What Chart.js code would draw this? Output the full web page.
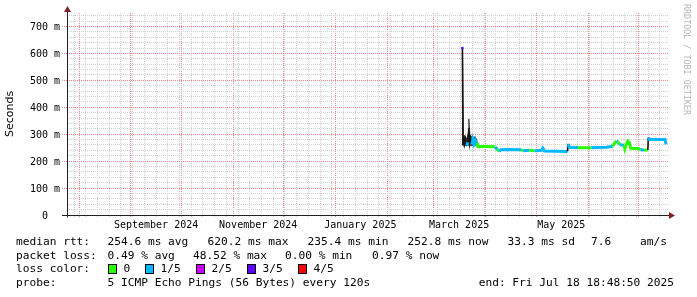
<!DOCTYPE html>
<html><head><meta charset="utf-8">
<script src="https://cdn.jsdelivr.net/npm/chart.js@4.4.1/dist/chart.umd.min.js"></script>
<style>
html,body{margin:0;padding:0;background:#fff;}
#wrap{position:relative;width:697px;height:297px;overflow:hidden;background:#fff;}
#c{position:absolute;left:0;top:0;}
.t{position:absolute;font-family:'DejaVu Sans Mono',monospace;font-size:11.2px;line-height:14px;color:#000;white-space:pre;}
.box{position:absolute;width:9px;height:10px;box-sizing:border-box;border:1px solid #000;}
#wm{position:absolute;left:692px;top:4px;font-family:'DejaVu Sans Mono',monospace;font-size:8.4px;line-height:10px;color:#b4b4b4;white-space:pre;transform-origin:0 0;transform:rotate(90deg);}
</style></head>
<body><div id="wrap"><canvas id="c" width="697" height="297"></canvas><div id="legend"></div><div id="wm"></div></div>
<script>
// ---------- data ----------
const dates = ['2025-03-18T00:00','2025-03-18T08:00','2025-03-18T20:00','2025-03-19T08:00','2025-03-19T20:00','2025-03-20T14:00','2025-03-21T04:00','2025-03-21T20:00','2025-03-22T08:00','2025-03-22T20:00','2025-03-23T14:00','2025-03-24T04:00','2025-03-24T20:00','2025-03-25T14:00','2025-03-26T04:00','2025-03-26T16:00','2025-03-27T04:00','2025-04-01T00:00','2025-04-06T12:00','2025-04-07T18:00','2025-04-08T18:00','2025-04-10T00:00','2025-04-15T00:00','2025-04-22T00:00','2025-04-23T06:00','2025-04-27T00:00','2025-04-30T00:00','2025-05-04T06:00','2025-05-05T00:00','2025-05-06T00:00','2025-05-13T00:00','2025-05-19T18:00','2025-05-20T06:00','2025-05-21T00:00','2025-05-26T00:00','2025-05-28T00:00','2025-06-03T00:00','2025-06-05T00:00','2025-06-12T00:00','2025-06-15T18:00','2025-06-17T00:00','2025-06-18T00:00','2025-06-19T00:00','2025-06-19T18:00','2025-06-22T12:00','2025-06-23T00:00','2025-06-23T12:00','2025-06-24T18:00','2025-06-25T18:00','2025-06-26T12:00','2025-07-01T00:00','2025-07-02T06:00','2025-07-04T12:00','2025-07-06T18:00','2025-07-07T00:00','2025-07-07T18:00','2025-07-17T00:00','2025-07-17T16:00'];
const medianRtt = [620,262,292,264,282,258,270,322,266,285,262,280,264,277,262,268,254,254,253,244,236,242,243,242,239,240,239,240,248,238,237,236,264,251,251,250,250,251,252,255,268,274,272,261,259,246,256,274,268,248,247,242,241,241,288,280,280,262];
const lossLevel = [3,1,1,1,1,1,1,1,1,1,1,1,1,1,1,1,0,0,0,1,0,1,1,1,0,1,0,1,1,1,1,1,1,1,1,0,0,1,1,1,0,0,1,0,1,0,0,0,0,0,0,0,1,0,1,1,1,1];
const smokeDates = ['2025-03-17T22:00','2025-03-18T00:00','2025-03-18T14:00','2025-03-19T14:00','2025-03-20T14:00','2025-03-21T08:00','2025-03-21T20:00','2025-03-22T10:00','2025-03-23T10:00','2025-03-24T10:00','2025-03-25T10:00','2025-03-26T10:00','2025-03-27T04:00'];
const smokeHigh = [262,622,300,292,282,300,357,298,292,288,290,282,256];
const smokeLow = [258,258,254,256,255,256,258,256,255,256,256,255,253];
const lossLabels = ['0','1/5','2/5','3/5','4/5'];
const lossColors = ['#26ff00','#00b8ff','#cc00ff','#6000ff','#ff0000'];
const yTickValues = [0,100,200,300,400,500,600,700];
const yTickLabels = ['0  ','100 m','200 m','300 m','400 m','500 m','600 m','700 m'];
const xTickLabels = ['September 2024','November 2024','January 2025','March 2025','May 2025'];
const xTickDates = ['2024-09-16T00:00','2024-11-16T00:00','2025-01-16T00:00','2025-03-16T00:00','2025-05-16T00:00'];
const rangeStart = '2024-07-24T19:00';
const rangeEnd = '2025-07-18T18:48';
const rttStats = ['254.6 ms avg','620.2 ms max','235.4 ms min','252.8 ms now','33.3 ms sd','7.6','am/s'];
const lossStats = ['0.49 % avg','48.52 % max','0.00 % min','0.97 % now'];
const probeText = '5 ICMP Echo Pings (56 Bytes) every 120s';
const endText = 'end: Fri Jul 18 18:48:50 2025';
const watermark = 'RRDTOOL / TOBI OETIKER';

// ---------- helpers ----------
const toMs = s => Date.parse(s + ':00Z');
const startMs = toMs(rangeStart), endMs = toMs(rangeEnd);
const DAY = 86400000;
const MINOR = '#d0d0d0';
const MAJOR = '#f28a8a';

const tickInfo = new Map();
const addTick = (v, k, lbl) => { const o = tickInfo.get(v) || {}; o[k] = true; if (lbl) o.label = lbl; tickInfo.set(v, o); };
for (let t = Date.UTC(2024,6,29); t < endMs; t += 7*DAY) if (t > startMs) addTick(t, 'week');
for (let y = 2024, m = 7; Date.UTC(y,m,1) < endMs; m++) { if (m > 11) { m = 0; y++; } const t = Date.UTC(y,m,1); if (t > startMs && t < endMs) addTick(t, 'month'); }
xTickDates.forEach((d,i) => addTick(toMs(d), 'lab', xTickLabels[i]));
const xTicks = [...tickInfo.keys()].sort((a,b)=>a-b).map(v => ({value: v}));

const yMinor = []; for (let v = 0; v <= 740; v += 20) yMinor.push(v);
const yLabelMap = new Map(yTickValues.map((v,i)=>[v, yTickLabels[i]]));

const steep = c => Math.abs(c.p1.y - c.p0.y) > 3*Math.abs(c.p1.x - c.p0.x) + 2;

const axesPlugin = {
  id: 'rrdAxes',
  afterDraw(chart) {
    const {ctx, chartArea: a} = chart;
    const y0 = Math.round(chart.scales.y.getPixelForValue(0)) + 0.5;
    const x0 = Math.round(a.left) + 0.5;
    ctx.save();
    ctx.strokeStyle = '#1f1f1f'; ctx.lineWidth = 1;
    ctx.beginPath(); ctx.moveTo(62, y0); ctx.lineTo(a.right + 2, y0); ctx.stroke();
    ctx.beginPath(); ctx.moveTo(x0, y0 + 2); ctx.lineTo(x0, a.top - 3); ctx.stroke();
    ctx.fillStyle = '#801f1f';
    ctx.beginPath(); ctx.moveTo(a.right + 1, y0 - 3.5); ctx.lineTo(a.right + 7, y0); ctx.lineTo(a.right + 1, y0 + 3.5); ctx.closePath(); ctx.fill();
    ctx.beginPath(); ctx.moveTo(x0 - 3.5, a.top - 1); ctx.lineTo(x0, a.top - 7); ctx.lineTo(x0 + 3.5, a.top - 1); ctx.closePath(); ctx.fill();
    ctx.restore();
  }
};

new Chart(document.getElementById('c'), {
  type: 'line',
  data: {
    datasets: [
      {
        label: 'median rtt',
        data: dates.map((d,i) => ({x: toMs(d), y: medianRtt[i]})),
        borderColor: lossColors[1],
        borderWidth: 3,
        borderCapStyle: 'butt',
        tension: 0,
        fill: false,
        pointRadius: c => lossLevel[c.dataIndex] >= 2 ? 1.6 : 0,
        pointStyle: 'rect',
        pointBorderWidth: 0,
        pointBackgroundColor: c => lossColors[lossLevel[c.dataIndex]],
        segment: {
          borderColor: c => steep(c) ? '#151515' : lossColors[lossLevel[c.p1DataIndex]],
          borderWidth: c => steep(c) ? 1.6 : 3
        }
      },
      {
        label: 'smoke high',
        data: smokeDates.map((d,i) => ({x: toMs(d), y: smokeHigh[i]})),
        borderColor: 'rgba(60,60,60,0.9)', borderWidth: 1, pointRadius: 0, tension: 0,
        backgroundColor: 'rgba(60,60,60,0.85)', fill: 2
      },
      {
        label: 'smoke low',
        data: smokeDates.map((d,i) => ({x: toMs(d), y: smokeLow[i]})),
        borderColor: 'rgba(60,60,60,0.9)', borderWidth: 0, pointRadius: 0, tension: 0, fill: false
      }
    ]
  },
  options: {
    responsive: false, animation: false, devicePixelRatio: 1, events: [],
    layout: {padding: {left: 0, right: 29, top: 13, bottom: 62}},
    plugins: {legend: {display: false}, tooltip: {enabled: false}},
    scales: {
      x: {
        type: 'linear', min: startMs, max: endMs,
        afterBuildTicks: s => { s.ticks = xTicks.map(t => ({value: t.value})); },
        afterFit: s => { s.height = 20; },
        ticks: {
          autoSkip: false, maxRotation: 0, minRotation: 0, padding: 2, color: '#000',
          font: {family: 'DejaVu Sans Mono', size: 10},
          callback: v => (tickInfo.get(v) || {}).label || ''
        },
        grid: {
          lineWidth: 1, tickLength: 2, drawTicks: true,
          color: c => { const o = tickInfo.get(c.tick && c.tick.value) || {}; return o.month ? MAJOR : (o.week ? MINOR : 'rgba(0,0,0,0)'); },
          tickColor: c => { const o = tickInfo.get(c.tick && c.tick.value) || {}; return o.month ? MAJOR : (o.week ? MINOR : 'rgba(0,0,0,0)'); }
        },
        border: {display: false, dash: [1,1]}
      },
      y: {
        type: 'linear', min: 0, max: 750,
        afterBuildTicks: s => { s.ticks = yMinor.map(v => ({value: v})); },
        afterFit: s => { s.width = 67; },
        ticks: {
          autoSkip: false, padding: 2, color: '#000', labelOffset: 1,
          font: {family: 'DejaVu Sans Mono', size: 10},
          callback: v => yLabelMap.has(v) ? yLabelMap.get(v) : ''
        },
        grid: {
          lineWidth: 1, tickLength: 5, drawTicks: true,
          color: c => (c.tick && c.tick.value % 100 === 0) ? MAJOR : MINOR,
          tickColor: c => (c.tick && c.tick.value % 100 === 0) ? MAJOR : 'rgba(0,0,0,0)',
          tickBorderDash: [1,1]
        },
        border: {display: false, dash: [1,1]},
        title: {display: true, text: 'Seconds', color: '#000', font: {family: 'DejaVu Sans', size: 11}, padding: {top: 4, bottom: 4}}
      }
    }
  },
  plugins: [axesPlugin]
});

// ---------- legend text (rrdtool style) ----------
const lg = document.getElementById('legend');
const put = (txt, x, y) => { const d = document.createElement('div'); d.className = 't'; d.textContent = txt; d.style.left = x + 'px'; d.style.top = y + 'px'; lg.appendChild(d); };
const rows = [235, 248.5, 262, 276];
put('median rtt:', 16, rows[0]);
[107.5, 207.6, 307.6, 407.6, 507.6, 591, 640].forEach((x,i) => put(rttStats[i], x, rows[0]));
put('packet loss:', 16, rows[1]);
[107.5, 193, 285, 372].forEach((x,i) => put(lossStats[i], x, rows[1]));
put('loss color:', 16, rows[2]);
[108, 145, 196, 247, 298].forEach((x,i) => {
  const b = document.createElement('div'); b.className = 'box'; b.style.left = x + 'px'; b.style.top = '264px'; b.style.background = lossColors[i]; lg.appendChild(b);
  put(lossLabels[i], x + 15.5, rows[2]);
});
put('probe:', 16, rows[3]);
put(probeText, 107.5, rows[3]);
put(endText, 478.7, rows[3]);
document.getElementById('wm').textContent = watermark;
</script>
</body></html>
